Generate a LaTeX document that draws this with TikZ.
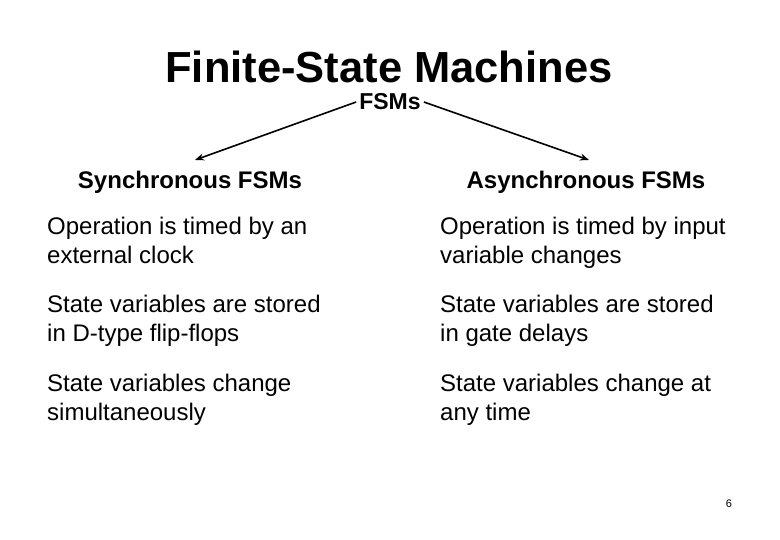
\documentclass[tikz,border=0pt]{standalone}
\usepackage{fontspec}
\setmainfont{Liberation Sans}
\usetikzlibrary{arrows.meta, positioning}

\tikzset{
	titletext/.style  ={font=\bfseries\fontsize{43.5}{50}\selectfont},
	roottext/.style   ={font=\bfseries\fontsize{23}{26}\selectfont, inner sep=3pt},
	headtext/.style   ={font=\bfseries\fontsize{24}{28}\selectfont, inner sep=0pt},
	itemtext/.style   ={font=\fontsize{24}{29}\selectfont, align=left, anchor=north west, inner sep=0pt},
	branch/.style     ={line width=1.6pt, -{Stealth[length=9pt,width=7pt]}}
}

\begin{document}
\begin{tikzpicture}[x=1pt,y=-1pt]
	\useasboundingbox (0,0) rectangle (780,540);
	\node[titletext] (title) at (389,67) {Finite-State Machines};
	\node[roottext] (fsm) at (390,102) {FSMs};
	\node[headtext] (sync) at (190,182) {Synchronous FSMs};
	\node[headtext] (async) at (586,182) {Asynchronous FSMs};
	\coordinate (syncend) at (195,160);
	\coordinate (asyncend) at (589,160);
	\draw[branch] (fsm.west) -- (syncend);
	\draw[branch] (fsm.east) -- (asyncend);
	% left column
	\node[itemtext] (s1) at (47,217) {Operation is timed by an\\external clock};
	\node[itemtext] (s2) at (47,295) {State variables are stored\\in D-type flip-flops};
	\node[itemtext] (s3) at (47,374) {State variables change\\simultaneously};
	% right column
	\node[itemtext] (a1) at (440,217) {Operation is timed by input\\variable changes};
	\node[itemtext] (a2) at (440,295) {State variables are stored\\in gate delays};
	\node[itemtext] (a3) at (440,374) {State variables change at\\any time};
	\node[font=\fontsize{11}{13}\selectfont] (page) at (729,504) {6};
\end{tikzpicture}
\end{document}
